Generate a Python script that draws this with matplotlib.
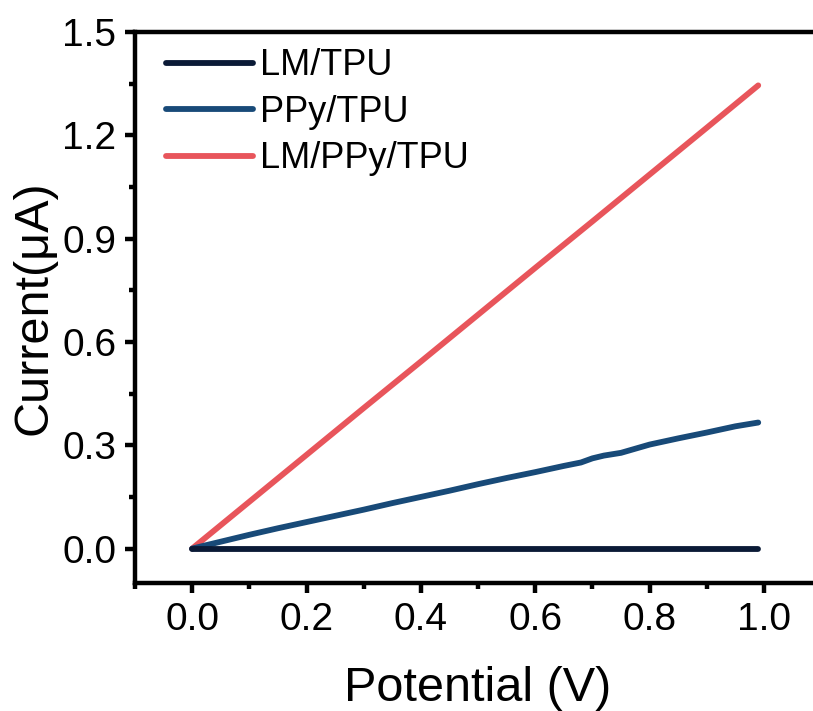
import numpy as np
import matplotlib
matplotlib.use("Agg")
import matplotlib.pyplot as plt
from matplotlib.ticker import MultipleLocator

plt.rcParams['font.family'] = ['Liberation Sans', 'DejaVu Sans']

# potential (V) sample points
v_lm = [0.0, 0.2, 0.4, 0.6, 0.8, 0.99]
i_lm = [0.0, 0.0, 0.0, 0.0, 0.0, 0.0]

v_ppy = [0.0, 0.05, 0.10, 0.15, 0.20, 0.25, 0.30, 0.35, 0.40, 0.45, 0.50,
         0.55, 0.60, 0.65, 0.68, 0.70, 0.72, 0.75, 0.80, 0.85, 0.90, 0.95, 0.99]
i_ppy = [0.0, 0.020, 0.040, 0.059, 0.077, 0.095, 0.113, 0.132, 0.150, 0.168, 0.187,
         0.205, 0.222, 0.240, 0.250, 0.262, 0.270, 0.278, 0.302, 0.320, 0.337, 0.355, 0.366]

v_lmppy = [0.0, 0.1, 0.2, 0.3, 0.4, 0.5, 0.6, 0.7, 0.8, 0.9, 0.99]
i_lmppy = [0.0, 0.136, 0.272, 0.408, 0.543, 0.679, 0.815, 0.950, 1.086, 1.222, 1.345]

fig = plt.figure(figsize=(8.13, 7.11), dpi=100)
ax = fig.add_axes([0.166, 0.180, 0.844, 0.775])

lw = 4.2
ax.plot(v_lm, i_lm, color='#0a1a36', lw=lw, solid_capstyle='round', label='LM/TPU', zorder=3)
ax.plot(v_ppy, i_ppy, color='#184a78', lw=lw, solid_capstyle='round', label='PPy/TPU', zorder=2)
ax.plot(v_lmppy, i_lmppy, color='#e8555b', lw=lw, solid_capstyle='round', label='LM/PPy/TPU', zorder=1)

ax.set_xlim(-0.1, 1.1)
ax.set_ylim(-0.1, 1.5)
ax.xaxis.set_major_locator(MultipleLocator(0.2))
ax.xaxis.set_minor_locator(MultipleLocator(0.1))
ax.yaxis.set_major_locator(MultipleLocator(0.3))
ax.yaxis.set_minor_locator(MultipleLocator(0.15))
ax.set_xticks(np.arange(0, 1.01, 0.2))
ax.xaxis.set_major_formatter(plt.FormatStrFormatter('%.1f'))
ax.yaxis.set_major_formatter(plt.FormatStrFormatter('%.1f'))

for s in ax.spines.values():
    s.set_linewidth(3.2)
ax.tick_params(which='major', direction='out', length=7.5, width=3.2, labelsize=28, pad=6)
ax.tick_params(which='minor', direction='out', length=4, width=3.2)
ax.tick_params(top=False, right=False, which='both')

ax.set_xlabel('Potential (V)', fontsize=35, labelpad=20)
ax.set_ylabel('Current(μA)', fontsize=35, labelpad=4)

ax.legend(loc='upper left', frameon=False, fontsize=26, handlelength=2.4,
          handletextpad=0.2, labelspacing=0.32, borderaxespad=0.05,
          bbox_to_anchor=(0.022, 1.0))

fig.savefig('out.png', dpi=100)
